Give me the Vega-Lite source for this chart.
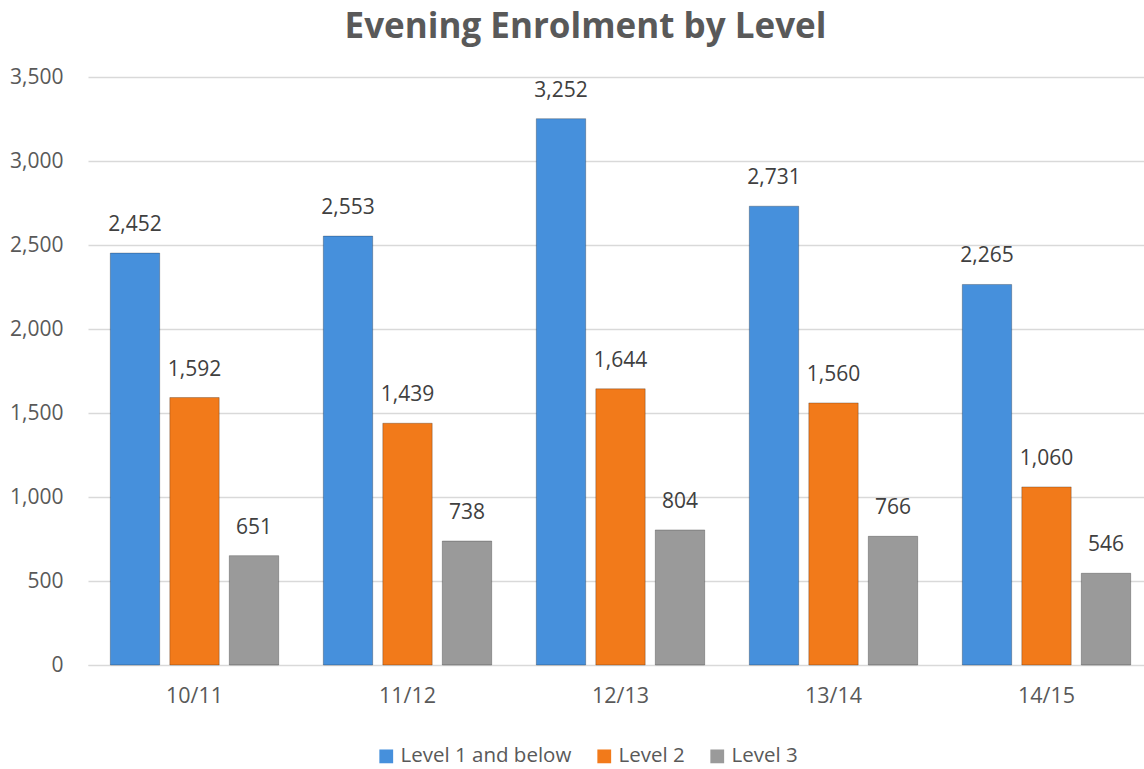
{
  "$schema": "https://vega.github.io/schema/vega-lite/v6.json",
  "width": 1065,
  "height": 588,
  "autosize": {"type": "none"},
  "padding": {"left": 88, "top": 77, "right": 0, "bottom": 104},
  "background": "white",
  "config": {"font": "Open Sans", "view": {"stroke": null}},
  "title": {"text": "Evening Enrolment by Level", "fontSize": 35, "fontWeight": "bold", "color": "#595959", "anchor": "middle", "dx": -35, "offset": 21},
  "data": {"values": [
    {"year": "10/11", "level": "Level 1 and below", "enrolment": 2452},
    {"year": "10/11", "level": "Level 2", "enrolment": 1592},
    {"year": "10/11", "level": "Level 3", "enrolment": 651},
    {"year": "11/12", "level": "Level 1 and below", "enrolment": 2553},
    {"year": "11/12", "level": "Level 2", "enrolment": 1439},
    {"year": "11/12", "level": "Level 3", "enrolment": 738},
    {"year": "12/13", "level": "Level 1 and below", "enrolment": 3252},
    {"year": "12/13", "level": "Level 2", "enrolment": 1644},
    {"year": "12/13", "level": "Level 3", "enrolment": 804},
    {"year": "13/14", "level": "Level 1 and below", "enrolment": 2731},
    {"year": "13/14", "level": "Level 2", "enrolment": 1560},
    {"year": "13/14", "level": "Level 3", "enrolment": 766},
    {"year": "14/15", "level": "Level 1 and below", "enrolment": 2265},
    {"year": "14/15", "level": "Level 2", "enrolment": 1060},
    {"year": "14/15", "level": "Level 3", "enrolment": 546}
  ]},
  "encoding": {
    "x": {"field": "year", "type": "nominal", "sort": null,
      "scale": {"paddingInner": 0.162, "paddingOuter": 0.081},
      "axis": {"title": null, "labelAngle": 0, "labelFontSize": 21.5, "labelColor": "#595959", "labelPadding": 20, "ticks": false, "domainColor": "#d9d9d9", "domainWidth": 1, "grid": false}},
    "xOffset": {"field": "level", "type": "nominal", "sort": ["Level 1 and below", "Level 2", "Level 3"],
      "scale": {"paddingInner": 0.17, "paddingOuter": 0.085}},
    "y": {"field": "enrolment", "type": "quantitative",
      "scale": {"domain": [0, 3500], "nice": false},
      "axis": {"title": null, "values": [0, 500, 1000, 1500, 2000, 2500, 3000, 3500], "format": ",.0f", "labelFontSize": 21, "labelColor": "#595959", "labelPadding": 25, "ticks": false, "domain": false, "gridColor": "#d9d9d9", "gridWidth": 1.3}}
  },
  "layer": [
    {"mark": {"type": "bar", "stroke": "#000000", "strokeOpacity": 0.25, "strokeWidth": 1},
     "encoding": {"color": {"field": "level", "type": "nominal",
       "scale": {"domain": ["Level 1 and below", "Level 2", "Level 3"], "range": ["#4690dc", "#f27a1a", "#9a9a9a"]},
       "legend": {"title": null, "orient": "none", "direction": "horizontal", "legendX": 288, "legendY": 669, "symbolType": "square", "symbolSize": 190, "symbolStrokeWidth": 0, "labelFontSize": 20.5, "labelColor": "#595959", "labelOffset": 4, "labelLimit": 400, "columnPadding": 22}}}},
    {"mark": {"type": "text", "dy": -28, "fontSize": 21, "color": "#404040"},
     "encoding": {"text": {"field": "enrolment", "type": "quantitative", "format": ","}}}
  ]
}
